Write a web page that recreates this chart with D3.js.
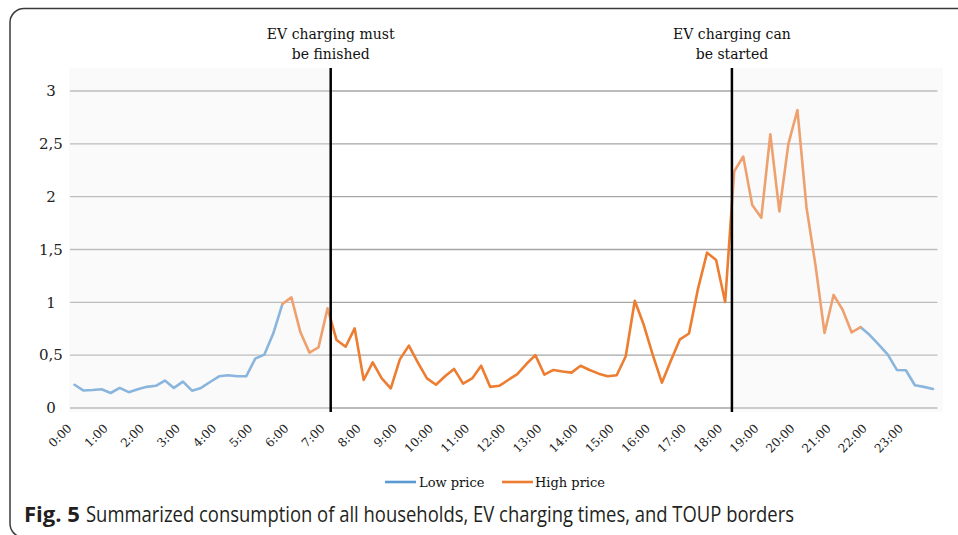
<!DOCTYPE html>
<html>
<head>
<meta charset="utf-8">
<script src="https://cdn.jsdelivr.net/npm/d3@7"></script>
<style>
  html, body { margin: 0; padding: 0; background: #ffffff; }
  svg { display: block; }
</style>
</head>
<body>
<svg id="chart" width="958" height="535"></svg>
<script>
// ---- data (15-minute intervals, 0:00 .. 23:45) ----
const consumption = [
  0.22, 0.165, 0.17, 0.177, 0.142, 0.19, 0.15, 0.177, 0.20, 0.21, 0.26, 0.19,
  0.25, 0.164, 0.19, 0.246, 0.30, 0.31, 0.30, 0.30, 0.467, 0.505, 0.707, 0.984,
  1.047, 0.716, 0.524, 0.574, 0.943, 0.643, 0.58, 0.754, 0.265, 0.432, 0.28, 0.186,
  0.46, 0.59, 0.43, 0.28, 0.22, 0.30, 0.37, 0.23, 0.28, 0.40, 0.20, 0.21,
  0.265, 0.32, 0.416, 0.50, 0.315, 0.36, 0.345, 0.335, 0.40, 0.36, 0.325, 0.30,
  0.31, 0.49, 1.015, 0.785, 0.50, 0.24, 0.45, 0.65, 0.705, 1.13, 1.47, 1.40,
  1.003, 2.24, 2.38, 1.92, 1.80, 2.59, 1.86, 2.50, 2.82, 1.90, 1.35, 0.71,
  1.07, 0.93, 0.715, 0.765, 0.69, 0.60, 0.505, 0.36, 0.357, 0.215, 0.20, 0.18
];
const hourLabels = ["0:00","1:00","2:00","3:00","4:00","5:00","6:00","7:00","8:00","9:00","10:00","11:00",
  "12:00","13:00","14:00","15:00","16:00","17:00","18:00","19:00","20:00","21:00","22:00","23:00"];
const yTicks = [0, 0.5, 1, 1.5, 2, 2.5, 3];
const yTickLabels = ["0", "0,5", "1", "1,5", "2", "2,5", "3"];
const lowPriceRanges = [[0, 23], [87, 95]];   // index ranges (inclusive)
const highPriceRanges = [[23, 87]];
const evBorders = [28.35, 72.75];              // category positions of the EV charging borders
const evBorderLabels = [["EV charging must", "be finished"], ["EV charging can", "be started"]];
const seriesNames = ["Low price", "High price"];
const seriesColors = ["#5B9BD5", "#ED7D31"];
const captionBold = "Fig. 5";
const captionText = "Summarized consumption of all households, EV charging times, and TOUP borders";

// ---- layout ----
const svg = d3.select("#chart");
const plot = { left: 70, right: 937.5, top: 91, bottom: 408 };
const serif = "'DejaVu Serif', 'Liberation Serif', serif";

const x = d3.scaleBand().domain(d3.range(consumption.length)).range([plot.left, plot.right]).padding(0);
const xPos = d3.scaleLinear().domain([-0.5, consumption.length - 0.5]).range([plot.left, plot.right]);
const y = d3.scaleLinear().domain([0, 3]).range([plot.bottom, plot.top]);

// frame
svg.append("rect")
  .attr("x", 10).attr("y", 8.5).attr("width", 1000).attr("height", 529)
  .attr("rx", 14).attr("ry", 14)
  .attr("fill", "none").attr("stroke", "#3a3a3a").attr("stroke-width", 1.5);

// gridlines
svg.append("g").selectAll("line").data(yTicks).join("line")
  .attr("x1", plot.left).attr("x2", plot.right)
  .attr("y1", d => y(d)).attr("y2", d => y(d))
  .attr("stroke", "#a6a6a6").attr("stroke-width", 1.3);

// y labels
svg.append("g").selectAll("text").data(yTicks).join("text")
  .attr("x", 51).attr("y", d => y(d)).attr("dy", "0.35em")
  .attr("text-anchor", "middle")
  .attr("font-family", serif).attr("font-size", 15).attr("fill", "#222")
  .text((d, i) => yTickLabels[i]);

// x labels (every hour = every 4th category)
svg.append("g").selectAll("text").data(hourLabels).join("text")
  .attr("transform", (d, i) => {
    const cx = x(i * 4) + x.bandwidth() / 2;
    return `translate(${cx - 2},429) rotate(-45)`;
  })
  .attr("text-anchor", "end")
  .attr("font-family", serif).attr("font-size", 12).attr("fill", "#222")
  .text(d => d);

// lines
const line = d3.line()
  .x(i => x(i) + x.bandwidth() / 2)
  .y(i => y(consumption[i]));

const lg = svg.append("g").attr("fill", "none").attr("stroke-width", 2.6)
  .attr("stroke-linejoin", "round").attr("stroke-linecap", "round");
lowPriceRanges.forEach(r => {
  lg.append("path").attr("d", line(d3.range(r[0], r[1] + 1))).attr("stroke", seriesColors[0]);
});
highPriceRanges.forEach(r => {
  lg.append("path").attr("d", line(d3.range(r[0], r[1] + 1))).attr("stroke", seriesColors[1]);
});

// shaded (off-charging) regions
const shadeTop = 68, shadeBottom = 412;
svg.append("rect")
  .attr("x", plot.left - 1).attr("y", shadeTop)
  .attr("width", xPos(evBorders[0]) - plot.left + 1).attr("height", shadeBottom - shadeTop)
  .attr("fill", "#efefef").attr("fill-opacity", 0.32);
svg.append("rect")
  .attr("x", xPos(evBorders[1])).attr("y", shadeTop)
  .attr("width", 943 - xPos(evBorders[1])).attr("height", shadeBottom - shadeTop)
  .attr("fill", "#efefef").attr("fill-opacity", 0.32);

// EV border lines
svg.append("g").selectAll("line").data(evBorders).join("line")
  .attr("x1", d => xPos(d)).attr("x2", d => xPos(d))
  .attr("y1", shadeTop).attr("y2", shadeBottom)
  .attr("stroke", "#000").attr("stroke-width", 2.5);

// EV border annotations
evBorders.forEach((b, i) => {
  const t = svg.append("text")
    .attr("text-anchor", "middle")
    .attr("font-family", serif).attr("font-size", 14).attr("fill", "#111");
  evBorderLabels[i].forEach((s, j) => {
    t.append("tspan").attr("x", xPos(b)).attr("y", 39 + j * 19.5).text(s);
  });
});

// legend
const legend = svg.append("g");
const legendItems = [{ x: 385, tx: 419 }, { x: 502, tx: 535 }];
seriesNames.forEach((n, i) => {
  legend.append("line")
    .attr("x1", legendItems[i].x).attr("x2", legendItems[i].x + 31)
    .attr("y1", 482).attr("y2", 482)
    .attr("stroke", seriesColors[i]).attr("stroke-width", 2.6);
  legend.append("text")
    .attr("x", legendItems[i].tx).attr("y", 486.5)
    .attr("font-family", serif).attr("font-size", 13).attr("fill", "#111")
    .text(n);
});

// caption
const capFont = "'Liberation Sans Narrow', 'Open Sans', 'Liberation Sans', sans-serif";
svg.append("text")
  .attr("x", 24).attr("y", 522)
  .attr("font-family", capFont).attr("font-weight", "bold")
  .attr("font-size", 21).attr("fill", "#231f20")
  .attr("textLength", 56).attr("lengthAdjust", "spacingAndGlyphs")
  .text(captionBold);
svg.append("text")
  .attr("x", 86).attr("y", 522)
  .attr("font-family", capFont)
  .attr("font-size", 21).attr("fill", "#231f20")
  .attr("textLength", 708).attr("lengthAdjust", "spacingAndGlyphs")
  .text(captionText);
</script>
</body>
</html>
